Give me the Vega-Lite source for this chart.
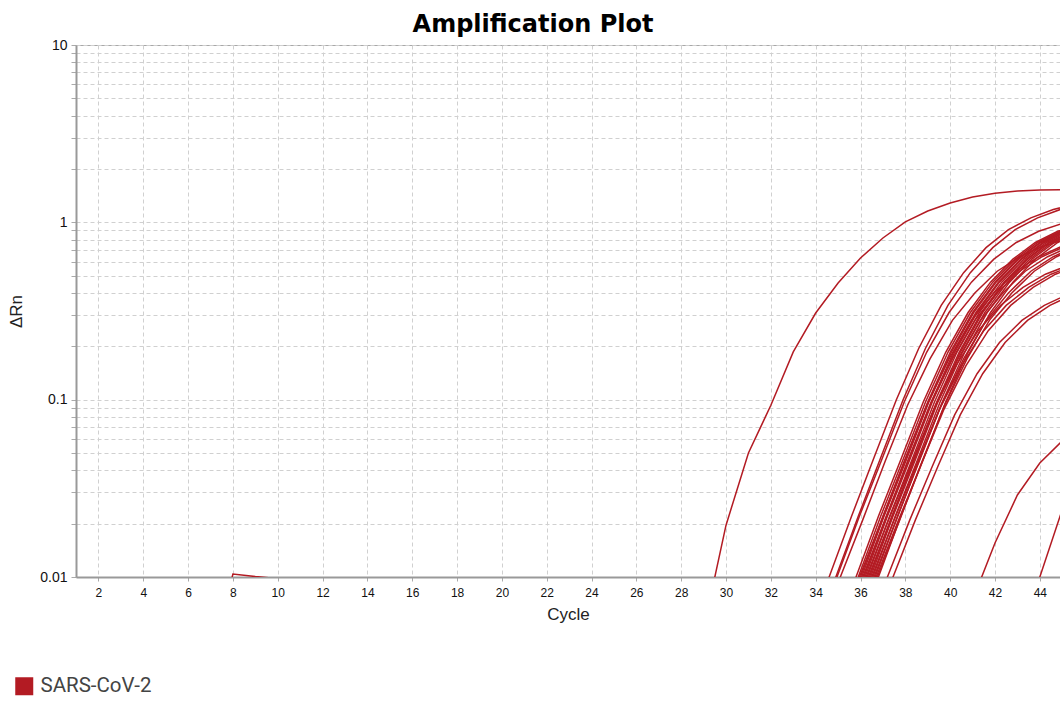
{
  "$schema": "https://vega.github.io/schema/vega-lite/v6.json",
  "width": 984,
  "height": 532,
  "autosize": {"type": "none"},
  "padding": {"left": 76, "top": 45, "right": 0, "bottom": 124},
  "background": "#ffffff",
  "config": {
    "view": {"stroke": "#a8a8a8", "strokeWidth": 1},
    "font": "Liberation Sans"
  },
  "title": {"text": "Amplification Plot", "font": "DejaVu Sans", "fontSize": 24, "fontWeight": "bold", "color": "#000000", "anchor": "middle", "dx": -35, "offset": 1},
  "data": {"values": [
    {"s":"c1","c":29,"v":0.0051},{"s":"c1","c":30,"v":0.0196},{"s":"c1","c":31,"v":0.05},{"s":"c1","c":32,"v":0.093},{"s":"c1","c":33,"v":0.186},{"s":"c1","c":34,"v":0.308},{"s":"c1","c":35,"v":0.455},{"s":"c1","c":36,"v":0.629},{"s":"c1","c":37,"v":0.816},{"s":"c1","c":38,"v":1.005},{"s":"c1","c":39,"v":1.159},{"s":"c1","c":40,"v":1.285},{"s":"c1","c":41,"v":1.39},{"s":"c1","c":42,"v":1.46},{"s":"c1","c":43,"v":1.5},{"s":"c1","c":44,"v":1.52},{"s":"c1","c":45,"v":1.53},
    {"s":"c2","c":33.6,"v":0.0046},{"s":"c2","c":34.6,"v":0.01},{"s":"c2","c":35.6,"v":0.022},{"s":"c2","c":36.6,"v":0.047},{"s":"c2","c":37.6,"v":0.1},{"s":"c2","c":38.6,"v":0.195},{"s":"c2","c":39.6,"v":0.34},{"s":"c2","c":40.6,"v":0.52},{"s":"c2","c":41.6,"v":0.72},{"s":"c2","c":42.6,"v":0.91},{"s":"c2","c":43.6,"v":1.06},{"s":"c2","c":44.6,"v":1.18},{"s":"c2","c":45.6,"v":1.27},
    {"s":"c3","c":33.9,"v":0.0046},{"s":"c3","c":34.9,"v":0.01},{"s":"c3","c":35.9,"v":0.022},{"s":"c3","c":36.9,"v":0.047},{"s":"c3","c":37.9,"v":0.1},{"s":"c3","c":38.9,"v":0.195},{"s":"c3","c":39.9,"v":0.34},{"s":"c3","c":40.9,"v":0.52},{"s":"c3","c":41.9,"v":0.72},{"s":"c3","c":42.9,"v":0.91},{"s":"c3","c":43.9,"v":1.06},{"s":"c3","c":44.9,"v":1.18},{"s":"c3","c":45.9,"v":1.27},
    {"s":"c4","c":33.95,"v":0.0046},{"s":"c4","c":34.95,"v":0.01},{"s":"c4","c":35.95,"v":0.022},{"s":"c4","c":36.95,"v":0.046},{"s":"c4","c":37.95,"v":0.097},{"s":"c4","c":38.95,"v":0.185},{"s":"c4","c":39.95,"v":0.31},{"s":"c4","c":40.95,"v":0.46},{"s":"c4","c":41.95,"v":0.62},{"s":"c4","c":42.95,"v":0.77},{"s":"c4","c":43.95,"v":0.89},{"s":"c4","c":44.95,"v":0.98},
    {"s":"c5","c":34.1,"v":0.0046},{"s":"c5","c":35.1,"v":0.01},{"s":"c5","c":36.1,"v":0.021},{"s":"c5","c":37.1,"v":0.045},{"s":"c5","c":38.1,"v":0.093},{"s":"c5","c":39.1,"v":0.17},{"s":"c5","c":40.1,"v":0.28},{"s":"c5","c":41.1,"v":0.4},{"s":"c5","c":42.1,"v":0.53},{"s":"c5","c":43.1,"v":0.64},{"s":"c5","c":44.1,"v":0.73},{"s":"c5","c":45.1,"v":0.8},
    {"s":"c6","c":34.8,"v":0.0046},{"s":"c6","c":35.8,"v":0.01},{"s":"c6","c":36.8,"v":0.022},{"s":"c6","c":37.8,"v":0.046},{"s":"c6","c":38.8,"v":0.097},{"s":"c6","c":39.8,"v":0.185},{"s":"c6","c":40.8,"v":0.31},{"s":"c6","c":41.8,"v":0.46},{"s":"c6","c":42.8,"v":0.62},{"s":"c6","c":43.8,"v":0.77},{"s":"c6","c":44.8,"v":0.89},{"s":"c6","c":45.8,"v":0.98},
    {"s":"c7","c":34.9,"v":0.0046},{"s":"c7","c":35.9,"v":0.01},{"s":"c7","c":36.9,"v":0.022},{"s":"c7","c":37.9,"v":0.046},{"s":"c7","c":38.9,"v":0.097},{"s":"c7","c":39.9,"v":0.185},{"s":"c7","c":40.9,"v":0.31},{"s":"c7","c":41.9,"v":0.46},{"s":"c7","c":42.9,"v":0.62},{"s":"c7","c":43.9,"v":0.77},{"s":"c7","c":44.9,"v":0.89},{"s":"c7","c":45.9,"v":0.98},
    {"s":"c8","c":34.95,"v":0.0046},{"s":"c8","c":35.95,"v":0.01},{"s":"c8","c":36.95,"v":0.021},{"s":"c8","c":37.95,"v":0.045},{"s":"c8","c":38.95,"v":0.093},{"s":"c8","c":39.95,"v":0.17},{"s":"c8","c":40.95,"v":0.28},{"s":"c8","c":41.95,"v":0.4},{"s":"c8","c":42.95,"v":0.53},{"s":"c8","c":43.95,"v":0.64},{"s":"c8","c":44.95,"v":0.73},
    {"s":"c9","c":35,"v":0.0046},{"s":"c9","c":36,"v":0.01},{"s":"c9","c":37,"v":0.022},{"s":"c9","c":38,"v":0.046},{"s":"c9","c":39,"v":0.097},{"s":"c9","c":40,"v":0.185},{"s":"c9","c":41,"v":0.31},{"s":"c9","c":42,"v":0.46},{"s":"c9","c":43,"v":0.62},{"s":"c9","c":44,"v":0.77},{"s":"c9","c":45,"v":0.89},
    {"s":"c10","c":35.05,"v":0.0046},{"s":"c10","c":36.05,"v":0.01},{"s":"c10","c":37.05,"v":0.022},{"s":"c10","c":38.05,"v":0.046},{"s":"c10","c":39.05,"v":0.097},{"s":"c10","c":40.05,"v":0.185},{"s":"c10","c":41.05,"v":0.31},{"s":"c10","c":42.05,"v":0.46},{"s":"c10","c":43.05,"v":0.62},{"s":"c10","c":44.05,"v":0.77},{"s":"c10","c":45.05,"v":0.89},
    {"s":"c11","c":35.1,"v":0.0046},{"s":"c11","c":36.1,"v":0.01},{"s":"c11","c":37.1,"v":0.021},{"s":"c11","c":38.1,"v":0.045},{"s":"c11","c":39.1,"v":0.093},{"s":"c11","c":40.1,"v":0.17},{"s":"c11","c":41.1,"v":0.28},{"s":"c11","c":42.1,"v":0.4},{"s":"c11","c":43.1,"v":0.53},{"s":"c11","c":44.1,"v":0.64},{"s":"c11","c":45.1,"v":0.73},
    {"s":"c12","c":35.15,"v":0.0046},{"s":"c12","c":36.15,"v":0.01},{"s":"c12","c":37.15,"v":0.022},{"s":"c12","c":38.15,"v":0.046},{"s":"c12","c":39.15,"v":0.097},{"s":"c12","c":40.15,"v":0.185},{"s":"c12","c":41.15,"v":0.31},{"s":"c12","c":42.15,"v":0.46},{"s":"c12","c":43.15,"v":0.62},{"s":"c12","c":44.15,"v":0.77},{"s":"c12","c":45.15,"v":0.89},
    {"s":"c13","c":35.2,"v":0.0046},{"s":"c13","c":36.2,"v":0.01},{"s":"c13","c":37.2,"v":0.022},{"s":"c13","c":38.2,"v":0.046},{"s":"c13","c":39.2,"v":0.097},{"s":"c13","c":40.2,"v":0.185},{"s":"c13","c":41.2,"v":0.31},{"s":"c13","c":42.2,"v":0.46},{"s":"c13","c":43.2,"v":0.62},{"s":"c13","c":44.2,"v":0.77},{"s":"c13","c":45.2,"v":0.89},
    {"s":"c14","c":35.25,"v":0.0047},{"s":"c14","c":36.25,"v":0.01},{"s":"c14","c":37.25,"v":0.021},{"s":"c14","c":38.25,"v":0.043},{"s":"c14","c":39.25,"v":0.087},{"s":"c14","c":40.25,"v":0.155},{"s":"c14","c":41.25,"v":0.245},{"s":"c14","c":42.25,"v":0.34},{"s":"c14","c":43.25,"v":0.43},{"s":"c14","c":44.25,"v":0.51},{"s":"c14","c":45.25,"v":0.57},
    {"s":"c15","c":35.3,"v":0.0046},{"s":"c15","c":36.3,"v":0.01},{"s":"c15","c":37.3,"v":0.022},{"s":"c15","c":38.3,"v":0.046},{"s":"c15","c":39.3,"v":0.097},{"s":"c15","c":40.3,"v":0.185},{"s":"c15","c":41.3,"v":0.31},{"s":"c15","c":42.3,"v":0.46},{"s":"c15","c":43.3,"v":0.62},{"s":"c15","c":44.3,"v":0.77},{"s":"c15","c":45.3,"v":0.89},
    {"s":"c16","c":35.35,"v":0.0046},{"s":"c16","c":36.35,"v":0.01},{"s":"c16","c":37.35,"v":0.021},{"s":"c16","c":38.35,"v":0.045},{"s":"c16","c":39.35,"v":0.093},{"s":"c16","c":40.35,"v":0.17},{"s":"c16","c":41.35,"v":0.28},{"s":"c16","c":42.35,"v":0.4},{"s":"c16","c":43.35,"v":0.53},{"s":"c16","c":44.35,"v":0.64},{"s":"c16","c":45.35,"v":0.73},
    {"s":"c17","c":35.4,"v":0.0046},{"s":"c17","c":36.4,"v":0.01},{"s":"c17","c":37.4,"v":0.022},{"s":"c17","c":38.4,"v":0.046},{"s":"c17","c":39.4,"v":0.097},{"s":"c17","c":40.4,"v":0.185},{"s":"c17","c":41.4,"v":0.31},{"s":"c17","c":42.4,"v":0.46},{"s":"c17","c":43.4,"v":0.62},{"s":"c17","c":44.4,"v":0.77},{"s":"c17","c":45.4,"v":0.89},
    {"s":"c18","c":35.45,"v":0.0046},{"s":"c18","c":36.45,"v":0.01},{"s":"c18","c":37.45,"v":0.022},{"s":"c18","c":38.45,"v":0.046},{"s":"c18","c":39.45,"v":0.097},{"s":"c18","c":40.45,"v":0.185},{"s":"c18","c":41.45,"v":0.31},{"s":"c18","c":42.45,"v":0.46},{"s":"c18","c":43.45,"v":0.62},{"s":"c18","c":44.45,"v":0.77},{"s":"c18","c":45.45,"v":0.89},
    {"s":"c19","c":35.5,"v":0.0047},{"s":"c19","c":36.5,"v":0.01},{"s":"c19","c":37.5,"v":0.021},{"s":"c19","c":38.5,"v":0.043},{"s":"c19","c":39.5,"v":0.087},{"s":"c19","c":40.5,"v":0.155},{"s":"c19","c":41.5,"v":0.245},{"s":"c19","c":42.5,"v":0.34},{"s":"c19","c":43.5,"v":0.43},{"s":"c19","c":44.5,"v":0.51},{"s":"c19","c":45.5,"v":0.57},
    {"s":"c20","c":35.55,"v":0.0046},{"s":"c20","c":36.55,"v":0.01},{"s":"c20","c":37.55,"v":0.022},{"s":"c20","c":38.55,"v":0.046},{"s":"c20","c":39.55,"v":0.097},{"s":"c20","c":40.55,"v":0.185},{"s":"c20","c":41.55,"v":0.31},{"s":"c20","c":42.55,"v":0.46},{"s":"c20","c":43.55,"v":0.62},{"s":"c20","c":44.55,"v":0.77},{"s":"c20","c":45.55,"v":0.89},
    {"s":"c21","c":35.6,"v":0.0046},{"s":"c21","c":36.6,"v":0.01},{"s":"c21","c":37.6,"v":0.021},{"s":"c21","c":38.6,"v":0.045},{"s":"c21","c":39.6,"v":0.093},{"s":"c21","c":40.6,"v":0.17},{"s":"c21","c":41.6,"v":0.28},{"s":"c21","c":42.6,"v":0.4},{"s":"c21","c":43.6,"v":0.53},{"s":"c21","c":44.6,"v":0.64},{"s":"c21","c":45.6,"v":0.73},
    {"s":"c22","c":35.65,"v":0.0046},{"s":"c22","c":36.65,"v":0.01},{"s":"c22","c":37.65,"v":0.022},{"s":"c22","c":38.65,"v":0.046},{"s":"c22","c":39.65,"v":0.097},{"s":"c22","c":40.65,"v":0.185},{"s":"c22","c":41.65,"v":0.31},{"s":"c22","c":42.65,"v":0.46},{"s":"c22","c":43.65,"v":0.62},{"s":"c22","c":44.65,"v":0.77},{"s":"c22","c":45.65,"v":0.89},
    {"s":"c23","c":35.7,"v":0.0047},{"s":"c23","c":36.7,"v":0.01},{"s":"c23","c":37.7,"v":0.021},{"s":"c23","c":38.7,"v":0.043},{"s":"c23","c":39.7,"v":0.087},{"s":"c23","c":40.7,"v":0.155},{"s":"c23","c":41.7,"v":0.245},{"s":"c23","c":42.7,"v":0.34},{"s":"c23","c":43.7,"v":0.43},{"s":"c23","c":44.7,"v":0.51},{"s":"c23","c":45.7,"v":0.57},
    {"s":"c24","c":35.75,"v":0.0046},{"s":"c24","c":36.75,"v":0.01},{"s":"c24","c":37.75,"v":0.021},{"s":"c24","c":38.75,"v":0.045},{"s":"c24","c":39.75,"v":0.093},{"s":"c24","c":40.75,"v":0.17},{"s":"c24","c":41.75,"v":0.28},{"s":"c24","c":42.75,"v":0.4},{"s":"c24","c":43.75,"v":0.53},{"s":"c24","c":44.75,"v":0.64},{"s":"c24","c":45.75,"v":0.73},
    {"s":"c25","c":35.8,"v":0.0046},{"s":"c25","c":36.8,"v":0.01},{"s":"c25","c":37.8,"v":0.022},{"s":"c25","c":38.8,"v":0.046},{"s":"c25","c":39.8,"v":0.097},{"s":"c25","c":40.8,"v":0.185},{"s":"c25","c":41.8,"v":0.31},{"s":"c25","c":42.8,"v":0.46},{"s":"c25","c":43.8,"v":0.62},{"s":"c25","c":44.8,"v":0.77},{"s":"c25","c":45.8,"v":0.89},
    {"s":"c26","c":36.2,"v":0.0047},{"s":"c26","c":37.2,"v":0.01},{"s":"c26","c":38.2,"v":0.021},{"s":"c26","c":39.2,"v":0.042},{"s":"c26","c":40.2,"v":0.082},{"s":"c26","c":41.2,"v":0.14},{"s":"c26","c":42.2,"v":0.21},{"s":"c26","c":43.2,"v":0.28},{"s":"c26","c":44.2,"v":0.34},{"s":"c26","c":45.2,"v":0.39},
    {"s":"c27","c":36.45,"v":0.0047},{"s":"c27","c":37.45,"v":0.01},{"s":"c27","c":38.45,"v":0.021},{"s":"c27","c":39.45,"v":0.042},{"s":"c27","c":40.45,"v":0.082},{"s":"c27","c":41.45,"v":0.14},{"s":"c27","c":42.45,"v":0.21},{"s":"c27","c":43.45,"v":0.28},{"s":"c27","c":44.45,"v":0.34},{"s":"c27","c":45.45,"v":0.39},
    {"s":"c28","c":41,"v":0.0074},{"s":"c28","c":42,"v":0.01555},{"s":"c28","c":43,"v":0.029},{"s":"c28","c":44,"v":0.0439},{"s":"c28","c":45,"v":0.0585},
    {"s":"c29","c":43,"v":0.0042},{"s":"c29","c":44,"v":0.01},{"s":"c29","c":45,"v":0.024},
    {"s":"c30","c":7,"v":0.003},{"s":"c30","c":8,"v":0.0104},{"s":"c30","c":9,"v":0.01006},{"s":"c30","c":10,"v":0.0098}
  ]},
  "mark": {"type": "line", "clip": true, "strokeWidth": 1.5},
  "encoding": {
    "x": {
      "field": "c", "type": "quantitative",
      "scale": {"domain": [1, 44.9], "nice": false, "zero": false},
      "axis": {
        "values": [2,4,6,8,10,12,14,16,18,20,22,24,26,28,30,32,34,36,38,40,42,44],
        "title": "Cycle", "grid": true, "gridDash": [4,3], "gridColor": "#d0d0d0",
        "domainColor": "#999999", "domainWidth": 2, "tickColor": "#aaaaaa", "tickSize": 4,
        "labelFontSize": 12, "labelColor": "#111111", "labelPadding": 6, "labelFlush": false, "labelOverlap": false,
        "titleFontSize": 17, "titleFontWeight": "normal", "titleColor": "#222222", "titlePadding": 8
      }
    },
    "y": {
      "field": "v", "type": "quantitative",
      "scale": {"type": "log", "domain": [0.01, 10], "nice": false},
      "axis": {
        "values": [0.01,0.02,0.03,0.04,0.05,0.06,0.07,0.08,0.09,0.1,0.2,0.3,0.4,0.5,0.6,0.7,0.8,0.9,1,2,3,4,5,6,7,8,9,10],
        "labelExpr": "datum.value == 0.01 ? '0.01' : datum.value == 0.1 ? '0.1' : datum.value == 1 ? '1' : datum.value == 10 ? '10' : ''",
        "title": "ΔRn", "grid": true, "gridDash": [4,3], "gridColor": "#d0d0d0",
        "domainColor": "#999999", "domainWidth": 2, "tickColor": "#aaaaaa", "tickSize": 5,
        "labelFontSize": 14, "labelColor": "#111111", "labelPadding": 4, "labelOverlap": false, "labelFlush": false,
        "titleFontSize": 17, "titleFontWeight": "normal", "titleColor": "#222222",
        "titleX": -55, "titleY": 266, "titleBaseline": "alphabetic", "titleAlign": "center", "titleAngle": 270
      }
    },
    "detail": {"field": "s", "type": "nominal"},
    "color": {
      "datum": "SARS-CoV-2", "type": "nominal",
      "scale": {"range": ["#b31b23"]},
      "legend": {
        "orient": "none", "legendX": -62, "legendY": 631, "title": null,
        "symbolType": "square", "symbolSize": 324, "symbolStrokeWidth": 0,
        "labelFont": "Roboto", "labelFontSize": 20.5, "labelColor": "#444444", "labelOffset": 6,
        "encode": {"symbols": {"update": {"fill": {"value": "#b31b23"}, "stroke": {"value": "transparent"}, "opacity": {"value": 1}}}}
      }
    }
  }
}
